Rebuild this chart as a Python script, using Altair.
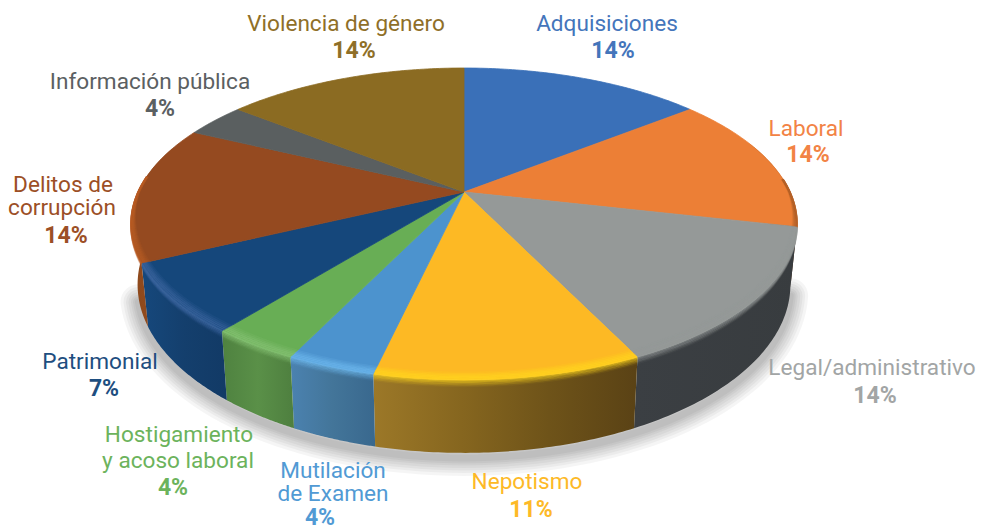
import numpy as np
import pandas as pd
import altair as alt

# ---- data (case counts behind the percentages)
categories = ["Adquisiciones", "Laboral", "Legal/administrativo", "Nepotismo", "Mutilación de Examen",
              "Hostigamiento y acoso laboral", "Patrimonial", "Delitos de corrupción",
              "Información pública", "Violencia de género"]
counts = [4, 4, 4, 3, 1, 1, 2, 4, 1, 4]
top_colors = ["#3a70b8", "#ec7f36", "#959998", "#fdb924", "#4c93ce",
              "#68ae55", "#15477b", "#954a20", "#5a5f60", "#8b6b22"]
highlight = ["#3a70b8", "#b5622a", "#959998", "#ffd71e", "#6fb9ee",
             "#86c274", "#3d66a0", "#b85c24", "#5a5f60", "#8b6b22"]
wall_stops = {
    "Laboral": ["#6a3a18", "#4a2810"],
    "Legal/administrativo": ["#3b3f43", "#383c3f"],
    "Nepotismo": ["#9c7828", "#86661f", "#6e5319", "#5a4215"],
    "Mutilación de Examen": ["#4b82b0", "#437599", "#39688e"],
    "Hostigamiento y acoso laboral": ["#4f8240", "#5a9048", "#4e7f3f"],
    "Patrimonial": ["#16487c", "#143f6d", "#123a66"],
    "Delitos de corrupción": ["#8c481c", "#9a4e1e"],
}
wall_ranges = {"Laboral": (70, None), "Delitos de corrupción": (None, 288)}

# labels: (text, bold?, colour, centre x, baseline y)
labels = [
    ("Adquisiciones", 0, "#4475bb", 599, 23), ("14%", 1, "#4475bb", 605, 50),
    ("Laboral", 0, "#f28345", 798, 128), ("14%", 1, "#f28345", 800, 154),
    ("Legal/administrativo", 0, "#a2a5a5", 864, 367), ("14%", 1, "#a2a5a5", 867, 395),
    ("Nepotismo", 0, "#fdb927", 519, 481), ("11%", 1, "#fdb927", 523, 509),
    ("Mutilación", 0, "#519ad4", 325, 470), ("de Examen", 0, "#519ad4", 325, 493), ("4%", 1, "#519ad4", 312, 517),
    ("Hostigamiento", 0, "#6cb35c", 171, 434), ("y acoso laboral", 0, "#6cb35c", 170, 460), ("4%", 1, "#6cb35c", 165, 487),
    ("Patrimonial", 0, "#1e4e80", 92, 361), ("7%", 1, "#1e4e80", 96, 388),
    ("Delitos de", 0, "#9c4f26", 55, 184), ("corrupción", 0, "#9c4f26", 54, 207), ("14%", 1, "#9c4f26", 58, 235),
    ("Información pública", 0, "#5b6062", 142, 81), ("4%", 1, "#5b6062", 152, 108),
    ("Violencia de género", 0, "#8f6f28", 338, 23), ("14%", 1, "#8f6f28", 346, 50),
]

FONT = "Roboto"
W, H = 969, 521
CX, CY, RX, RY = 456.0, 184.0, 326.0, 149.4   # pie centre and radii on the canvas
TILT = 0.205
DEPTH = 58.0 / RY
BOTTOM_X = 0.98

x_scale = alt.Scale(domain=[-CX / RX, (W - CX) / RX], range=[0, W], nice=False, zero=False)
y_scale = alt.Scale(domain=[(CY - H) / RY, CY / RY], range=[H, 0], nice=False, zero=False)


def project(deg):
    t = np.radians(deg)
    u, v = np.sin(t), np.cos(t)
    w = 1 + TILT * v
    return u / w, v / w, w, v


def poly_chart(df, fill, stroke=None):
    kw = {"fill": fill, "stroke": stroke if stroke else "transparent", "strokeWidth": 0.8 if stroke else 0}
    return alt.Chart(df).mark_line(interpolate="linear-closed", **kw).encode(
        x=alt.X("x:Q", scale=x_scale, axis=None),
        y=alt.Y("y:Q", scale=y_scale, axis=None),
        order="i:Q",
    )


edges = np.concatenate([[0], np.cumsum(counts)]) / sum(counts) * 360.0
layers = []

# soft shadow under the lower edge
shadow_rows = []
th = np.arange(104, 256, 2.0)
xs, ys, ws, _ = project(th)
for b, sw in enumerate([36, 30, 25, 20, 15, 11, 7]):
    for i, t in enumerate(th):
        shadow_rows.append({"b": b, "i": i, "x": xs[i] * BOTTOM_X,
                            "y": ys[i] - DEPTH / ws[i] - 5 / RY, "sw": sw})
layers.append(
    alt.Chart(pd.DataFrame(shadow_rows)).mark_line(color="#000000", opacity=0.04, strokeCap="round").encode(
        x=alt.X("x:Q", scale=x_scale, axis=None),
        y=alt.Y("y:Q", scale=y_scale, axis=None),
        order="i:Q", detail="b:N",
        strokeWidth=alt.StrokeWidth("sw:Q", scale=None),
    )
)

# side walls, each slice with its own horizontal gradient
for k, name in enumerate(categories):
    if name not in wall_stops:
        continue
    a, b = edges[k], edges[k + 1]
    lo, hi = wall_ranges.get(name, (None, None))
    a = a if lo is None else lo
    b = b if hi is None else hi
    th = np.linspace(a, b, 60)
    xs, ys, ws, _ = project(th)
    top = pd.DataFrame({"x": xs, "y": ys})
    bot = pd.DataFrame({"x": xs[::-1] * BOTTOM_X, "y": (ys - DEPTH / ws)[::-1]})
    df = pd.concat([top, bot], ignore_index=True)
    df["i"] = range(len(df))
    st = wall_stops[name]
    grad = alt.LinearGradient(
        gradient="linear", x1=0, x2=1, y1=0, y2=0,
        stops=[alt.GradientStop(color=c, offset=j / (len(st) - 1)) for j, c in enumerate(st)],
    )
    layers.append(poly_chart(df, grad))

# top faces
for k, name in enumerate(categories):
    th = np.arange(edges[k], edges[k + 1] + 0.01, (edges[k + 1] - edges[k]) / 60)
    xs, ys, _, _ = project(th)
    df = pd.DataFrame({"x": np.r_[0.0, xs], "y": np.r_[0.0, ys]})
    df["i"] = range(len(df))
    layers.append(poly_chart(df, top_colors[k], top_colors[k]))

# bevel along the rim: inside the rim it shrinks along the radius, below it falls on the wall
offs = np.arange(-9, 8, 1.4)
FRONT = 1.26 * RY
bevel = []
for k, name in enumerate(categories):
    a, b = max(edges[k], 85), min(edges[k + 1], 276)
    if b <= a:
        continue
    th = np.linspace(a, b, 40)
    xs, ys, ws, vs = project(th)
    f = np.clip(-vs * 1.1 + 0.12, 0.12, 1.0)
    for n, o in enumerate(offs):
        op = np.interp(o, [-9, -3, 0, 7], [0.0, 0.72, 0.7, 0.0])
        for i in range(len(th)):
            if o < 0:
                s = 1 + o * f[i] / FRONT
                px, py = xs[i] * s, ys[i] * s
            else:
                px, py = xs[i], ys[i] - o * f[i] / RY
            bevel.append({"b": f"{k}-{n}", "i": i, "x": px, "y": py, "c": highlight[k], "op": float(op)})
layers.append(
    alt.Chart(pd.DataFrame(bevel)).mark_line(strokeWidth=1.6).encode(
        x=alt.X("x:Q", scale=x_scale, axis=None),
        y=alt.Y("y:Q", scale=y_scale, axis=None),
        order="i:Q", detail="b:N",
        stroke=alt.Stroke("c:N", scale=None),
        strokeOpacity=alt.StrokeOpacity("op:Q", scale=None),
    )
)

# labels
lab = pd.DataFrame(labels, columns=["t", "bold", "c", "px", "py"])
for bold, size, weight in [(0, 22.6, "normal"), (1, 23, "bold")]:
    layers.append(
        alt.Chart(lab[lab.bold == bold]).mark_text(
            font=FONT, fontSize=size, fontWeight=weight, align="center", baseline="alphabetic"
        ).encode(
            x=alt.X("px:Q", scale=None, axis=None),
            y=alt.Y("py:Q", scale=None, axis=None),
            text="t:N",
            color=alt.Color("c:N", scale=None),
        )
    )

chart = alt.layer(*layers).resolve_scale(x="independent", y="independent").properties(
    width=W, height=H, padding=0, autosize=alt.AutoSizeParams(type="none"), background="#ffffff"
).configure_view(stroke=None)

chart.save("out.html", embed_options={"renderer": "svg", "actions": False})
